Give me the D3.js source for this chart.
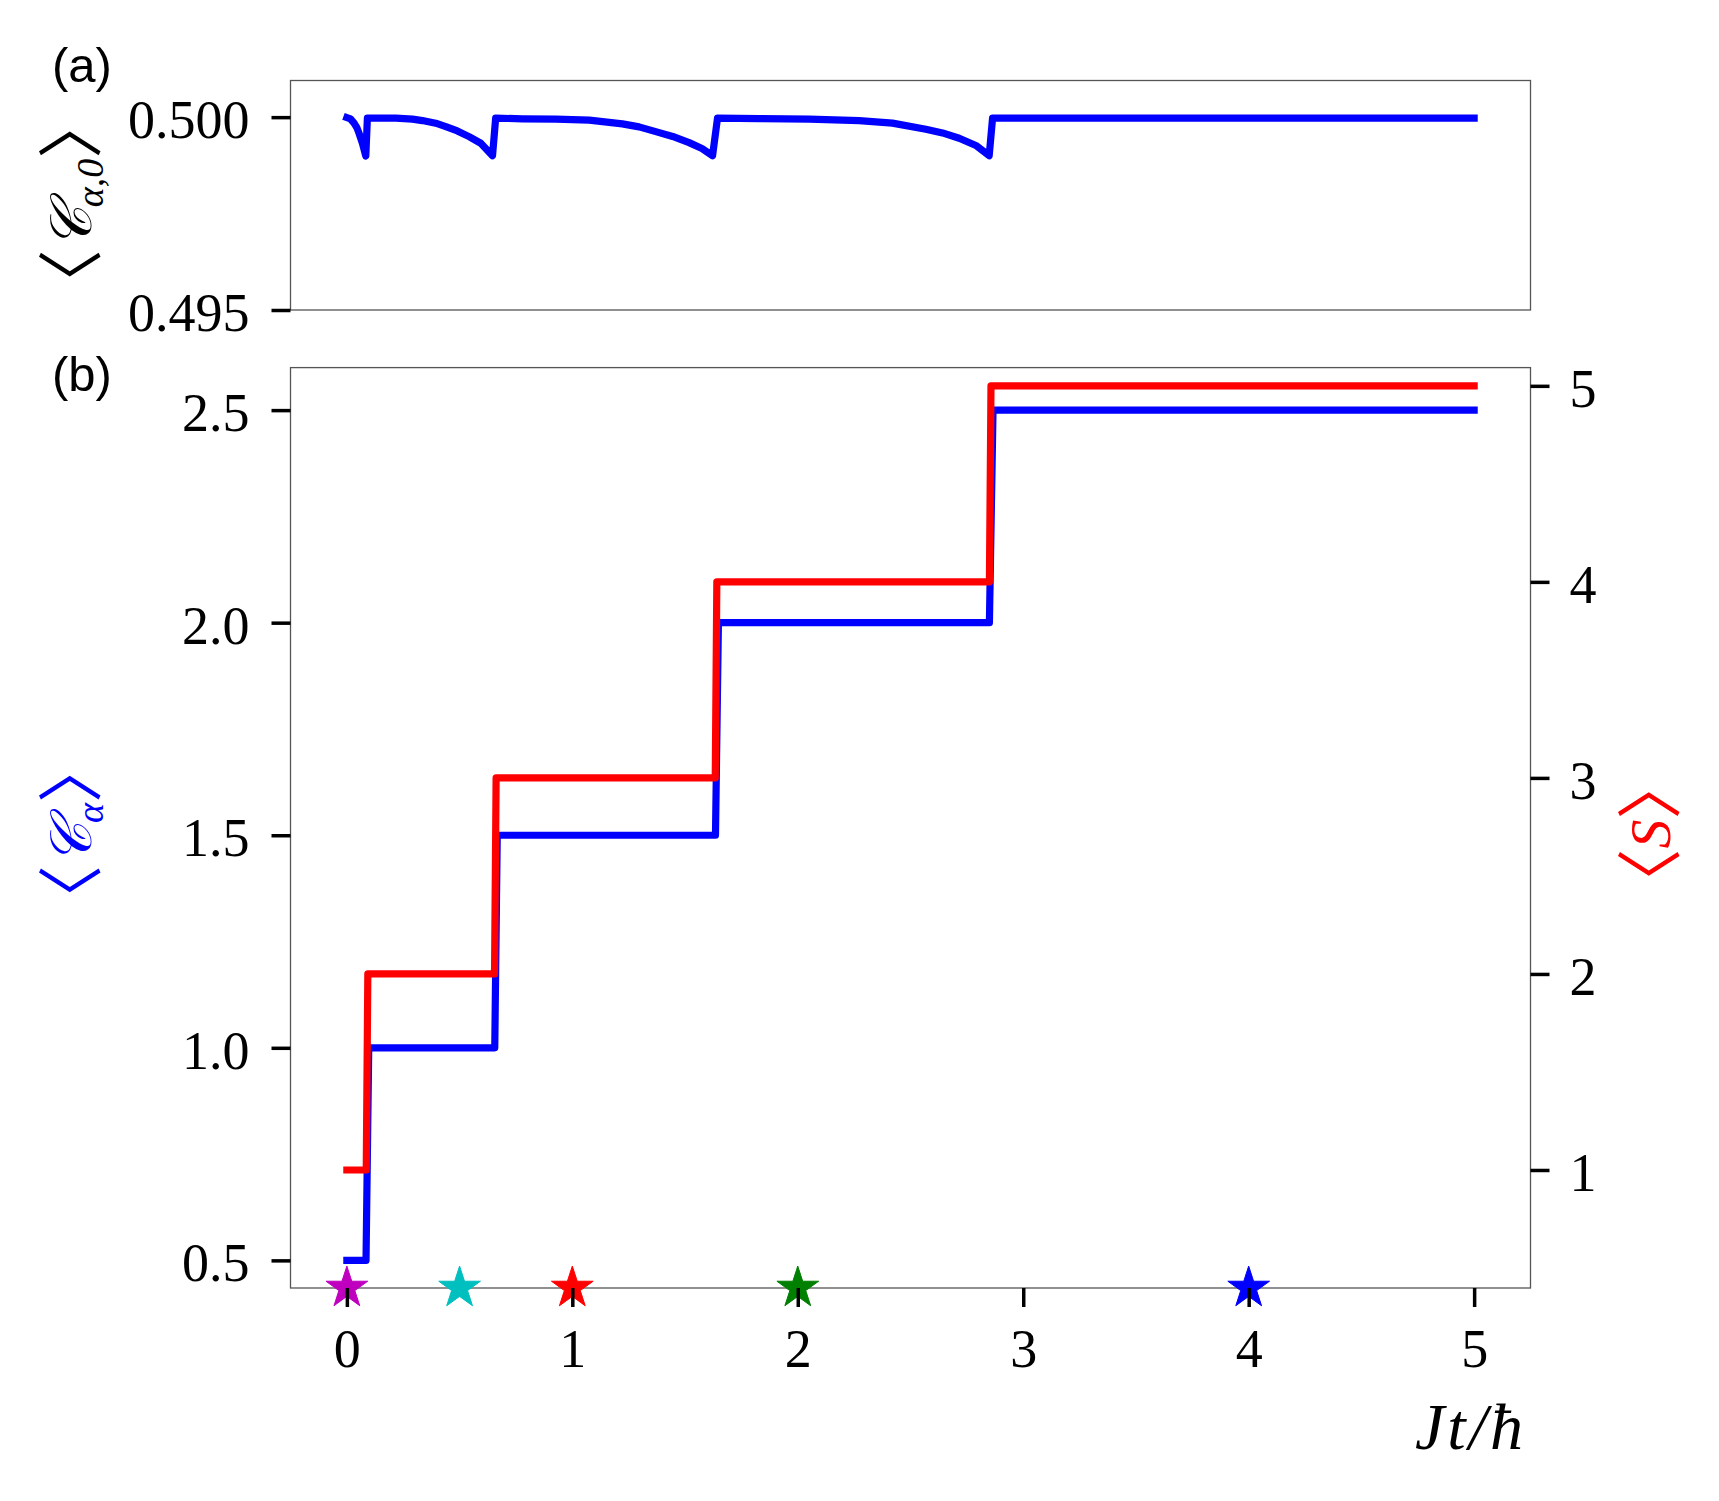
<!DOCTYPE html>
<html>
<head>
<meta charset="utf-8">
<script src="https://cdn.jsdelivr.net/npm/d3@7"></script>
<style>
  body { margin: 0; background: #fff; }
  svg text { font-family: "Liberation Serif", "DejaVu Serif", serif; }
</style>
</head>
<body>
<svg id="chart" width="1719" height="1501"></svg>
<script>
// panel (a): <C_alpha,0> against Jt/hbar
var timeA = [0, 0.016, 0.032, 0.045, 0.054, 0.069, 0.084,
             0.091, 0.217, 0.291, 0.335, 0.394, 0.439, 0.490, 0.542, 0.594, 0.646,
             0.660, 0.779, 0.927, 1.075, 1.222, 1.296, 1.370, 1.445, 1.518, 1.575, 1.622,
             1.644, 1.829, 2.051, 2.272, 2.420, 2.568, 2.642, 2.716, 2.790, 2.849,
             2.864, 5.0];
var cAlpha0 = [0.49999, 0.499956, 0.499844, 0.49972, 0.499583, 0.499323, 0.498990,
               0.499974, 0.499974, 0.499948, 0.499911, 0.499844, 0.499755, 0.499643, 0.499495, 0.499323, 0.499000,
               0.499974, 0.499956, 0.499948, 0.499922, 0.499826, 0.499747, 0.499625, 0.4995, 0.499339, 0.499188, 0.499000,
               0.499974, 0.499964, 0.499948, 0.499911, 0.499844, 0.499688, 0.499591, 0.499453, 0.499266, 0.499000,
               0.499974, 0.499974];

// panel (b): <C_alpha> (left axis) and <S> (right axis)
var timeC = [0, 0.085, 0.097, 0.656, 0.667, 1.635, 1.648, 2.850, 2.866, 5];
var cAlpha = [0.5, 0.5, 1.0, 1.0, 1.5, 1.5, 2.0, 2.0, 2.5, 2.5];
var timeS = [0, 0.086, 0.093, 0.655, 0.662, 1.634, 1.641, 2.850, 2.857, 5];
var sMean = [1, 1, 2, 2, 3, 3, 4, 4, 5, 5];

// star markers on the time axis
var starTimes = [0, 0.5, 1, 2, 4];
var starColors = ["#bf00bf", "#00bfbf", "#ff0000", "#008000", "#0000ff"];
var starLevel = 0.435;

var xTicks = [0, 1, 2, 3, 4, 5];
var yTicksA = [0.495, 0.500];
var yTicksB = [0.5, 1.0, 1.5, 2.0, 2.5];
var yTicksS = [1, 2, 3, 4, 5];

var svg = d3.select("#chart");
var left = 290.5, right = 1530.5;
var aTop = 80.5, aBottom = 310;
var bTop = 367.6, bBottom = 1288;
var fontSize = 54;
var lw = 7.2;

var x = d3.scaleLinear().domain([-0.25, 5.25]).range([left, right]);
var yA = d3.scaleLinear().domain([0.495, 0.50095]).range([aBottom, aTop]);
var yB = d3.scaleLinear().domain([0.435, 2.6]).range([bBottom, bTop]);
var yS = d3.scaleLinear().domain([0.398, 5.093]).range([bBottom, bTop]);

function frame(top, bottom) {
    svg.append("rect")
        .attr("x", left).attr("y", top)
        .attr("width", right - left).attr("height", bottom - top)
        .attr("fill", "none")
        .attr("stroke", "#555")
        .attr("stroke-width", 1.3);
}
frame(aTop, aBottom);
frame(bTop, bBottom);

function styleAxis(g) {
    g.select(".domain").remove();
    g.selectAll(".tick line").attr("stroke", "#000").attr("stroke-width", 3.5);
    g.selectAll(".tick text")
        .attr("fill", "#000")
        .style("font-size", fontSize + "px")
        .style("font-family", "Liberation Serif, DejaVu Serif, serif");
}

// lines
var lineA = d3.line()
    .x(function(d, i) { return x(timeA[i]); })
    .y(function(d) { return yA(d); });

svg.append("path")
    .datum(cAlpha0)
    .attr("d", lineA)
    .attr("fill", "none")
    .attr("stroke", "#0000ff")
    .attr("stroke-width", lw)
    .attr("stroke-linejoin", "round")
    .attr("stroke-linecap", "square");

var lineC = d3.line()
    .x(function(d, i) { return x(timeC[i]); })
    .y(function(d) { return yB(d); });

var lineS = d3.line()
    .x(function(d, i) { return x(timeS[i]); })
    .y(function(d) { return yS(d); });

svg.append("path")
    .datum(cAlpha)
    .attr("d", lineC)
    .attr("fill", "none")
    .attr("stroke", "#0000ff")
    .attr("stroke-width", lw)
    .attr("stroke-linejoin", "round")
    .attr("stroke-linecap", "square");

svg.append("path")
    .datum(sMean)
    .attr("d", lineS)
    .attr("fill", "none")
    .attr("stroke", "#ff0000")
    .attr("stroke-width", lw)
    .attr("stroke-linejoin", "round")
    .attr("stroke-linecap", "square");

// stars
var star = d3.symbol().type(d3.symbolStar).size(540);
svg.append("g")
    .selectAll("path")
    .data(starTimes)
    .enter().append("path")
    .attr("d", star)
    .attr("transform", function(d) { return "translate(" + x(d) + "," + yB(starLevel) + ")"; })
    .attr("fill", function(d, i) { return starColors[i]; })
    .attr("stroke", function(d, i) { return starColors[i]; })
    .attr("stroke-width", 1);

// axes
svg.append("g")
    .attr("transform", "translate(" + left + ",0)")
    .call(d3.axisLeft(yA).tickValues(yTicksA).tickFormat(d3.format(".3f")).tickSize(19).tickPadding(22))
    .call(styleAxis)
    .selectAll(".tick text").attr("dy", "0.38em");

svg.append("g")
    .attr("transform", "translate(" + left + ",0)")
    .call(d3.axisLeft(yB).tickValues(yTicksB).tickFormat(d3.format(".1f")).tickSize(19).tickPadding(22))
    .call(styleAxis)
    .selectAll(".tick text").attr("dy", "0.38em");

svg.append("g")
    .attr("transform", "translate(" + right + ",0)")
    .call(d3.axisRight(yS).tickValues(yTicksS).tickFormat(d3.format("d")).tickSize(19).tickPadding(20))
    .call(styleAxis)
    .selectAll(".tick text").attr("dy", "0.38em");

svg.append("g")
    .attr("transform", "translate(0," + bBottom + ")")
    .call(d3.axisBottom(x).tickValues(xTicks).tickFormat(d3.format("d")).tickSize(19).tickPadding(22))
    .call(styleAxis);

// axis labels
function yLabel(cx, cy, color, parts) {
    var t = svg.append("text")
        .attr("transform", "translate(" + cx + "," + cy + ") rotate(-90)")
        .attr("text-anchor", "middle")
        .attr("dy", "0.35em")
        .attr("fill", color)
        .style("font-size", fontSize + "px");
    parts.forEach(function(p) {
        var s = t.append("tspan").text(p.text);
        if (p.italic) s.style("font-style", "italic");
        if (p.size) s.style("font-size", p.size + "px");
        if (p.dy) s.attr("dy", p.dy);
        if (p.family) s.style("font-family", p.family);
    });
    return t;
}

var brFamily = "Noto Sans CJK JP";
var brSize = 66;

yLabel(91, 204, "#000", [
    {text: "\u3008", family: brFamily, size: brSize, dy: 4},
    {text: "\uD835\uDC9E", italic: true, size: 58, dy: -4},
    {text: "\u03B1,0", italic: true, size: 38, dy: 12},
    {text: "\u3009", family: brFamily, size: brSize, dy: -8}
]);

yLabel(91, 834, "#0000ff", [
    {text: "\u3008", family: brFamily, size: brSize, dy: 4},
    {text: "\uD835\uDC9E", italic: true, size: 58, dy: -4},
    {text: "\u03B1", italic: true, size: 38, dy: 12},
    {text: "\u3009", family: brFamily, size: brSize, dy: -8}
]);

yLabel(1670, 834, "#ff0000", [
    {text: "\u3008", family: brFamily, size: brSize, dy: 4},
    {text: "S", italic: true, size: 58, dy: -4},
    {text: "\u3009", family: brFamily, size: brSize, dy: 4}
]);

svg.append("text")
    .attr("x", 1526).attr("y", 1449)
    .attr("text-anchor", "end")
    .style("font-size", "66px")
    .style("font-style", "italic")
    .style("letter-spacing", "3px")
    .text("Jt/\u0127");

// panel letters
svg.append("text")
    .attr("x", 52).attr("y", 82)
    .style("font-family", "Liberation Sans, Arial, sans-serif")
    .style("font-size", "49px")
    .text("(a)");

svg.append("text")
    .attr("x", 52).attr("y", 391)
    .style("font-family", "Liberation Sans, Arial, sans-serif")
    .style("font-size", "49px")
    .text("(b)");
</script>
</body>
</html>
